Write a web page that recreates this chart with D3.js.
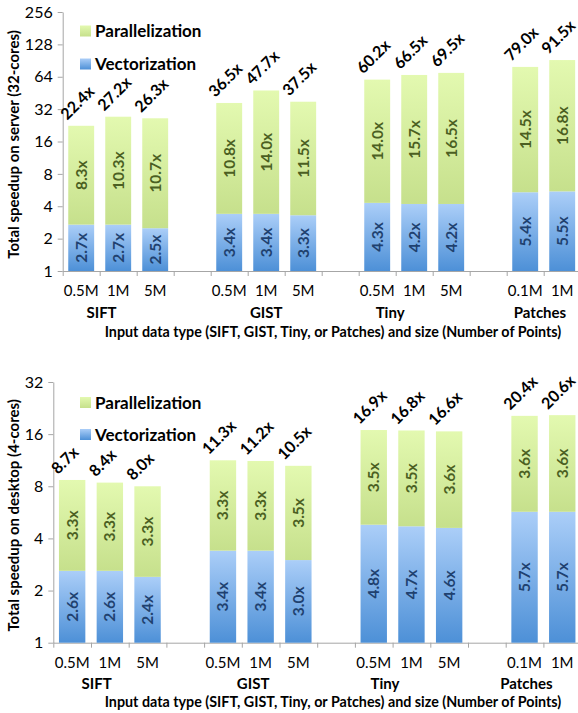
<!DOCTYPE html>
<html><head><meta charset="utf-8">
<script src="https://cdn.jsdelivr.net/npm/d3@7"></script>
<style>
body{margin:0;background:#fff;}
svg{display:block;font-family:Lato,"Open Sans",sans-serif;}
</style></head>
<body><svg id="c" width="578" height="713"></svg>
<script>
// ---- data ----
const groups = ["SIFT","GIST","Tiny","Patches"];
const sizes = [["0.5M","1M","5M"],["0.5M","1M","5M"],["0.5M","1M","5M"],["0.1M","1M"]];
// server (32 cores)
const serverTotal = [22.4,27.2,26.3, 36.5,47.7,37.5, 60.2,66.5,69.5, 79.0,91.5];
const serverVec   = [2.7,2.7,2.5, 3.4,3.4,3.3, 4.3,4.2,4.2, 5.4,5.5];
const serverPar   = [8.3,10.3,10.7, 10.8,14.0,11.5, 14.0,15.7,16.5, 14.5,16.8];
const serverTicks = [1,2,4,8,16,32,64,128,256];
// desktop (4 cores)
const desktopTotal = [8.7,8.4,8.0, 11.3,11.2,10.5, 16.9,16.8,16.6, 20.4,20.6];
const desktopVec   = [2.6,2.6,2.4, 3.4,3.4,3.0, 4.8,4.7,4.6, 5.7,5.7];
const desktopPar   = [3.3,3.3,3.3, 3.3,3.3,3.5, 3.5,3.5,3.6, 3.6,3.6];
const desktopTicks = [1,2,4,8,16,32];
const seriesNames = ["Parallelization","Vectorization"];
const xTitle = "Input data type (SIFT, GIST, Tiny, or Patches) and size (Number of Points)";

const svg = d3.select("#c");
const defs = svg.append("defs");
function grad(id, top, bottom){
  const g = defs.append("linearGradient").attr("id",id).attr("x1",0).attr("y1",0).attr("x2",0).attr("y2",1);
  g.append("stop").attr("offset","0%").attr("stop-color",top);
  g.append("stop").attr("offset","100%").attr("stop-color",bottom);
}
grad("gGreen","#e3f9b0","#c6e08c");
grad("gBlue","#abcef8","#4d90d7");

// build slot list: groups separated by a gap slot
const slots = [];
let k = 0;
groups.forEach((g,gi)=>{
  sizes[gi].forEach(s=>{ slots.push({key:g+"|"+s, group:g, size:s, idx:k}); k++; });
  if(gi < groups.length-1) slots.push({key:"gap"+gi, gap:true});
});

function drawChart(opt){
  const {x0, step, yTop, yBot, maxV, ticks, total, vec, par, yTitle, yTitleX,
         subY, groupY, titleY, groupPos, legX, legY1, legY2} = opt;
  const g = svg.append("g");
  const n = slots.length;
  const x = d3.scaleBand().domain(slots.map(s=>s.key)).range([x0, x0+n*step])
              .paddingInner(0.3).paddingOuter(0.15);
  const xi = d3.scaleLinear().domain([0,n]).range([x0, x0+n*step]);
  const y = d3.scaleLog().base(2).domain([1,maxV]).range([yBot,yTop]);

  // y axis
  const ya = g.append("g").attr("transform",`translate(${x0},0)`)
    .call(d3.axisLeft(y).tickValues(ticks).tickFormat(d3.format("d")).tickSize(5).tickSizeOuter(0).tickPadding(5));
  ya.select(".domain").attr("stroke","#a6a6a6");
  ya.selectAll(".tick line").attr("stroke","#a6a6a6");
  ya.selectAll("text").attr("font-size",16).attr("fill","#000").attr("font-family","Lato");

  // x axis with boundary ticks
  const xa = g.append("g").attr("transform",`translate(0,${yBot})`)
    .call(d3.axisBottom(xi).tickValues(d3.range(n+1)).tickFormat("").tickSize(5).tickSizeOuter(0));
  xa.select(".domain").attr("stroke","#a6a6a6");
  xa.selectAll(".tick line").attr("stroke","#a6a6a6");

  const data = slots.filter(s=>!s.gap).map(s=>({...s, t: total[s.idx], v: vec[s.idx], p: par[s.idx]}));
  const bw = x.bandwidth();
  const bars = g.selectAll("g.bar").data(data).join("g").attr("class","bar");
  bars.append("rect").attr("x",d=>x(d.key)).attr("width",bw)
    .attr("y",d=>y(d.v)).attr("height",d=>y(1)-y(d.v)).attr("fill","url(#gBlue)");
  bars.append("rect").attr("x",d=>x(d.key)).attr("width",bw)
    .attr("y",d=>y(d.t)).attr("height",d=>y(d.v)-y(d.t)).attr("fill","url(#gGreen)");
  // inner labels
  bars.append("text").attr("transform",d=>`translate(${x(d.key)+bw/2+5.5},${(y(d.v)+y(1))/2}) rotate(-90)`)
    .attr("text-anchor","middle").attr("font-size",15.5).attr("font-weight","bold").attr("fill","#1f416f")
    .text(d=>d.v.toFixed(1)+"x");
  bars.append("text").attr("transform",d=>`translate(${x(d.key)+bw/2+5.5},${(y(d.v)+y(d.t))/2}) rotate(-90)`)
    .attr("text-anchor","middle").attr("font-size",15.5).attr("font-weight","bold").attr("fill","#4b5f22")
    .text(d=>d.p.toFixed(1)+"x");
  // total labels
  bars.append("text").attr("transform",d=>`translate(${x(d.key)-1},${y(d.t)-5}) rotate(-45)`)
    .attr("font-size",16).attr("font-weight","bold").attr("fill","#000")
    .text(d=>d.t.toFixed(1)+"x");

  // sub-category labels
  g.selectAll("text.sub").data(data).join("text").attr("class","sub")
    .attr("x",d=>x(d.key)+bw/2).attr("y",subY).attr("text-anchor","middle")
    .attr("font-size",15).attr("fill","#000").text(d=>d.size);
  // group labels
  g.selectAll("text.grp").data(groups).join("text").attr("class","grp")
    .attr("x",(d,i)=>xi(groupPos[i])).attr("y",groupY).attr("text-anchor","middle")
    .attr("font-size",15).attr("font-weight","bold").attr("fill","#000").text(d=>d);
  g.append("text").attr("x",333).attr("y",titleY).attr("text-anchor","middle")
    .attr("font-size",14.3).attr("font-weight","bold").attr("fill","#000").text(xTitle);
  // y title
  g.append("text").attr("transform",`translate(${yTitleX},${(yTop+yBot)/2+3}) rotate(-90)`)
    .attr("text-anchor","middle").attr("font-size",15).attr("font-weight","bold").attr("fill","#000").text(yTitle);

  // legend
  const leg = [[seriesNames[0],"url(#gGreen)",legY1],[seriesNames[1],"url(#gBlue)",legY2]];
  leg.forEach(([name,fill,ly])=>{
    g.append("rect").attr("x",legX).attr("y",ly-5.5).attr("width",11).attr("height",11).attr("fill",fill);
    g.append("text").attr("x",legX+15).attr("y",ly+6).attr("font-size",17).attr("font-weight","bold")
      .attr("fill","#000").text(name);
  });
}

drawChart({x0:62.7, step:37, yTop:12, yBot:271, maxV:256, ticks:serverTicks,
  total:serverTotal, vec:serverVec, par:serverPar,
  yTitle:"Total speedup on server (32-cores)", yTitleX:19,
  subY:296, groupY:318, titleY:337, groupPos:[1.05,5.5,8.85,12.9],
  legX:80, legY1:31, legY2:64});

drawChart({x0:53.3, step:37.7, yTop:382, yBot:642.7, maxV:32, ticks:desktopTicks,
  total:desktopTotal, vec:desktopVec, par:desktopPar,
  yTitle:"Total speedup on desktop (4-cores)", yTitleX:19,
  subY:668, groupY:689, titleY:707, groupPos:[1.15,5.3,8.8,12.55],
  legX:80, legY1:402.5, legY2:434.5});
</script></body></html>
